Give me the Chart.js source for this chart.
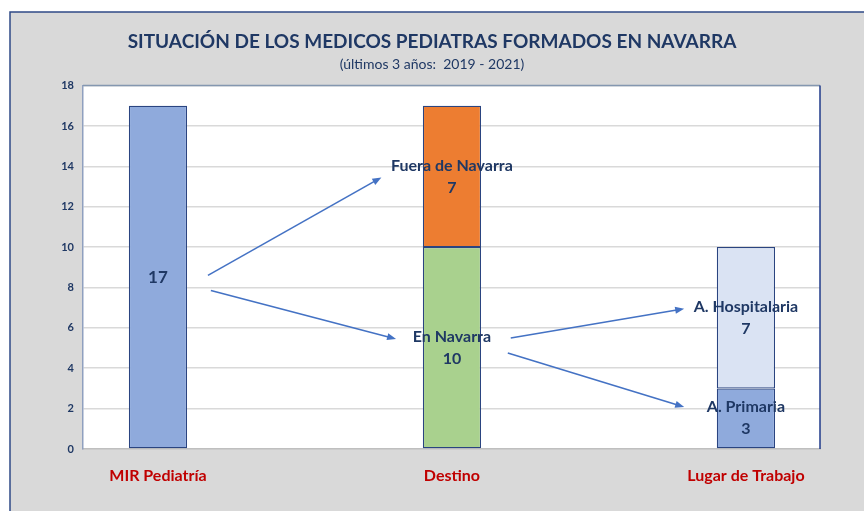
<!DOCTYPE html>
<html>
<head>
<meta charset="utf-8">
<script src="https://cdn.jsdelivr.net/npm/chart.js@4/dist/chart.umd.min.js"></script>
<style>
  html, body { margin: 0; padding: 0; background: #ffffff; }
  #wrap { width: 864px; height: 511px; }
</style>
</head>
<body>
<div id="wrap"><canvas id="chart" width="864" height="511"></canvas></div>
<script>
// Categories along the bottom
const categories = ["MIR Pediatría", "Destino", "Lugar de Trabajo"];

// One entry per stacked segment
const segmentNames = ["", "En Navarra", "Fuera de Navarra", "A. Primaria", "A. Hospitalaria"];
const segmentCategory = [0, 1, 1, 2, 2];
const segmentValues = [17, 10, 7, 3, 7];
const segmentColors = ["#8faadc", "#a9d18e", "#ed7d31", "#8faadc", "#dae3f3"];

// Y axis
const yMin = 0;
const yMax = 18;
const yStep = 2;

// Arrows in data units: [fromCategory, fromValue, toCategory, toValue]
const arrows = [
  [0.17, 8.6, 0.76, 13.45],
  [0.18, 7.85, 0.81, 5.45],
  [1.2, 5.5, 1.79, 6.95],
  [1.19, 4.75, 1.79, 2.08]
];

const NAVY = "#1f3864";
const FONT = "Lato, 'Open Sans', sans-serif";

const datasets = segmentValues.map((value, i) => ({
  label: segmentNames[i] || categories[segmentCategory[i]],
  data: [{ x: segmentCategory[i], y: value }],
  backgroundColor: segmentColors[i],
  borderColor: "#2a4480",
  borderWidth: 1.2,
  borderSkipped: false,
  categoryPercentage: 1,
  barPercentage: 0.198
}));

// Gray frame, white plot area and the top/right plot borders
const framePlugin = {
  id: "frame",
  beforeDraw: function (chart) {
    const ctx = chart.ctx;
    const area = chart.chartArea;
    ctx.save();
    ctx.fillStyle = "#ffffff";
    ctx.fillRect(0, 0, chart.width, chart.height);
    ctx.fillStyle = "#d9d9d9";
    ctx.fillRect(10, 12, chart.width - 10, chart.height - 12);
    ctx.strokeStyle = "#2f4a86";
    ctx.lineWidth = 1.5;
    ctx.beginPath();
    ctx.moveTo(10, chart.height);
    ctx.lineTo(10, 12);
    ctx.lineTo(chart.width, 12);
    ctx.stroke();
    ctx.fillStyle = "#ffffff";
    ctx.fillRect(area.left, area.top, area.right - area.left, area.bottom - area.top);
    ctx.restore();
  },
  afterDraw: function (chart) {
    const ctx = chart.ctx;
    const area = chart.chartArea;
    ctx.save();
    ctx.lineWidth = 1.5;
    ctx.strokeStyle = "#8497b0";
    ctx.beginPath();
    ctx.moveTo(area.left, area.top);
    ctx.lineTo(area.right, area.top);
    ctx.stroke();
    ctx.strokeStyle = "#1f3a8a";
    ctx.beginPath();
    ctx.moveTo(area.right, area.top);
    ctx.lineTo(area.right, area.bottom);
    ctx.stroke();
    ctx.restore();
  }
};

// Segment labels (name + value) centred in each segment, and the arrows
const labelPlugin = {
  id: "segmentLabels",
  afterDatasetsDraw: function (chart) {
    const ctx = chart.ctx;
    const xScale = chart.scales.x;
    const yScale = chart.scales.y;
    ctx.save();

    ctx.strokeStyle = "#4472c4";
    ctx.fillStyle = "#4472c4";
    ctx.lineWidth = 1.6;
    arrows.forEach(a => {
      const x1 = xScale.getPixelForValue(a[0]);
      const y1 = yScale.getPixelForValue(a[1]);
      const x2 = xScale.getPixelForValue(a[2]);
      const y2 = yScale.getPixelForValue(a[3]);
      const ang = Math.atan2(y2 - y1, x2 - x1);
      ctx.beginPath();
      ctx.moveTo(x1, y1);
      ctx.lineTo(x2 - 6 * Math.cos(ang), y2 - 6 * Math.sin(ang));
      ctx.stroke();
      ctx.beginPath();
      ctx.moveTo(x2, y2);
      ctx.lineTo(x2 - 9 * Math.cos(ang) + 3.5 * Math.sin(ang), y2 - 9 * Math.sin(ang) - 3.5 * Math.cos(ang));
      ctx.lineTo(x2 - 9 * Math.cos(ang) - 3.5 * Math.sin(ang), y2 - 9 * Math.sin(ang) + 3.5 * Math.cos(ang));
      ctx.closePath();
      ctx.fill();
    });

    ctx.fillStyle = NAVY;
    ctx.textAlign = "center";
    ctx.textBaseline = "middle";
    chart.data.datasets.forEach((ds, i) => {
      const el = chart.getDatasetMeta(i).data[0];
      const cy = (el.y + el.base) / 2;
      if (segmentNames[i]) {
        ctx.font = "bold 16px " + FONT;
        ctx.fillText(segmentNames[i], el.x, cy - 11);
        ctx.fillText(String(segmentValues[i]), el.x, cy + 11);
      } else {
        ctx.font = "bold 17px " + FONT;
        ctx.fillText(String(segmentValues[i]), el.x, cy);
      }
    });
    ctx.restore();
  }
};

new Chart(document.getElementById("chart"), {
  type: "bar",
  data: { datasets: datasets },
  plugins: [framePlugin, labelPlugin],
  options: {
    responsive: false,
    animation: false,
    layout: { padding: { top: 12, left: 44, right: 44, bottom: 0 } },
    plugins: {
      legend: { display: false },
      tooltip: { enabled: false },
      title: {
        display: true,
        text: "SITUACIÓN DE LOS MEDICOS PEDIATRAS FORMADOS EN NAVARRA",
        color: NAVY,
        font: { family: FONT, size: 19, weight: "bold", lineHeight: 1.2 },
        padding: { top: 18, bottom: 0 }
      },
      subtitle: {
        display: true,
        text: "(últimos 3 años:  2019 - 2021)",
        color: NAVY,
        font: { family: FONT, size: 14, weight: "normal", lineHeight: 1.2 },
        padding: { top: 3, bottom: 13 }
      }
    },
    scales: {
      x: {
        type: "linear",
        stacked: true,
        offset: false,
        min: -0.255,
        max: 2.252,
        afterFit: scale => { scale.height = 62; },
        grid: { display: false, drawTicks: false },
        border: { color: "#bfbfbf", width: 1.5 },
        ticks: {
          stepSize: 1,
          includeBounds: false,
          padding: 17,
          color: "#c00000",
          font: { family: FONT, size: 16, weight: "bold" },
          callback: value => categories[value] || ""
        }
      },
      y: {
        stacked: true,
        min: yMin,
        max: yMax,
        afterFit: scale => { scale.width = 39; },
        grid: { color: "#d9d9d9", lineWidth: 1.5, drawTicks: false },
        border: { color: "#8fa0bf", width: 1.5 },
        ticks: {
          stepSize: yStep,
          padding: 9,
          color: NAVY,
          font: { family: FONT, size: 11, weight: "bold" }
        }
      }
    }
  }
});
</script>
</body>
</html>
